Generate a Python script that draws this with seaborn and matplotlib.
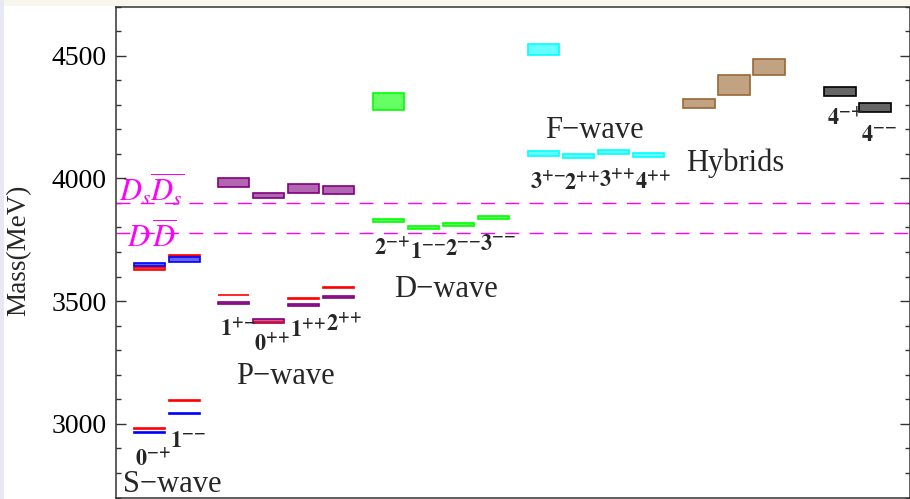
import matplotlib
matplotlib.use("Agg")
import matplotlib.pyplot as plt
from matplotlib.patches import Rectangle
from matplotlib.ticker import MultipleLocator
import seaborn as sns

# ---------------- charmonium spectrum (MeV) ----------------
# S-wave: 0-+, 1--
s_jpc = ["0", "1"]
s_pc = ["-+", "--"]
s_exp_1s = [2981, 3096]
s_lat_1s = [2966, 3042]
s_lat_1s_err = [2, 2]
s_exp_2s = [3634, 3686]
s_exp_2s_err = [6, 1]
s_lat_2s = [3648, 3670]
s_lat_2s_err = [6, 9]

# P-wave: 1+-, 0++, 1++, 2++
p_jpc = ["1", "0", "1", "2"]
p_pc = ["+-", "++", "++", "++"]
p_exp = [3525, 3414, 3510, 3555]
p_lat_1p = [3492, 3420, 3484, 3515]
p_lat_1p_err = [5, 9, 4, 4]
p_lat_2p = [3982, 3930, 3959, 3952]
p_lat_2p_err = [18, 11, 18, 16]

# D-wave: 2-+, 1--, 2--, 3--
d_jpc = ["2", "1", "2", "3"]
d_pc = ["-+", "--", "--", "--"]
d_lat_1d = [3827, 3800, 3812, 3840]
d_lat_1d_err = [6, 6, 7, 7]
d_lat_2d = [4312]
d_lat_2d_err = [35]

# F-wave: 3+-, 2++, 3++, 4++
f_jpc = ["3", "2", "3", "4"]
f_pc = ["+-", "++", "++", "++"]
f_lat_1f = [4101, 4092, 4108, 4096]
f_lat_1f_err = [11, 8, 8, 8]
f_lat_2f = [4525]
f_lat_2f_err = [24]

# Hybrids
h_lat = [4306, 4381, 4453]
h_lat_err = [18, 40, 32]

# Spin-4 states: 4-+, 4--
g_jpc = ["4", "4"]
g_pc = ["-+", "--"]
g_lat = [4355, 4290]
g_lat_err = [18, 18]

# Open-charm thresholds
thr_dsds = 3900
thr_dd = 3776

# ---------------- styling ----------------
sns.set_theme(style="ticks")
plt.rcParams["font.family"] = ["Liberation Serif", "DejaVu Serif"]
plt.rcParams["mathtext.fontset"] = "stix"

RED = "#ff0000"
BLUE = "#0000ff"
PURPLE = "#800080"
GREEN = "#00ff00"
CYAN = "#00ffff"
BROWN = "#996633"
BLACK = "#000000"

fig = plt.figure(figsize=(9.1, 4.99), dpi=100)
fig.patch.set_facecolor("white")
# slide-like margins
fig.add_artist(Rectangle((0, 1 - 6 / 499), 1, 6 / 499, transform=fig.transFigure,
                         facecolor="#f8f7ee", edgecolor="none", zorder=0))
fig.add_artist(Rectangle((0, 0), 4 / 910, 1, transform=fig.transFigure,
                         facecolor="#e8e8f5", edgecolor="none", zorder=0))

ax = fig.add_axes([116 / 910, 1.5 / 499, 794 / 910, (499 - 8) / 499])
ax.set_facecolor("white")

SLOT = 1.0
WIDTH = 0.90
group_start = {"S": 0.51, "P": 2.90, "D": 7.33, "F": 11.77, "H": 16.20, "G": 20.23}


def xpos(group, i):
    return group_start[group] + i * SLOT


def boxes(group, values, errs, color, alpha=0.6, lw=1.2, z=3):
    xs = [xpos(group, i) for i in range(len(values))]
    heights = [2 * e for e in errs]
    bottoms = [v - e for v, e in zip(values, errs)]
    ax.bar(xs, heights, bottom=bottoms, width=WIDTH, align="edge",
           facecolor=matplotlib.colors.to_rgba(color, alpha),
           edgecolor=color, linewidth=lw, zorder=z)


def lines(group, values, color, z=4):
    boxes(group, values, [1] * len(values), color, alpha=1.0, lw=1.2, z=z)


# lattice results
boxes("S", s_lat_1s, s_lat_1s_err, BLUE, alpha=1.0)
boxes("S", s_lat_2s, s_lat_2s_err, BLUE)
boxes("P", p_lat_1p, p_lat_1p_err, PURPLE)
boxes("P", p_lat_2p, p_lat_2p_err, PURPLE)
boxes("D", d_lat_1d, d_lat_1d_err, GREEN)
boxes("D", d_lat_2d, d_lat_2d_err, GREEN)
boxes("F", f_lat_1f, f_lat_1f_err, CYAN)
boxes("F", f_lat_2f, f_lat_2f_err, CYAN)
boxes("H", h_lat, h_lat_err, BROWN)
boxes("G", g_lat, g_lat_err, BLACK)

# experimental values
lines("S", s_exp_1s, RED)
boxes("S", s_exp_2s, s_exp_2s_err, RED, alpha=0.8, z=2)
lines("P", p_exp, RED)

# thresholds
for thr in (thr_dsds, thr_dd):
    ax.axhline(thr, color="#ff00ff", linewidth=1.0,
               linestyle=(0, (10, 7.5)), zorder=1)

ax.text(0.10, thr_dsds + 4, r"$D_s\overline{D_s}$", color="#ff00ff",
        fontsize=22, ha="left", va="baseline", zorder=5)
ax.text(0.32, thr_dd - 60, r"$D\,\overline{D}$", color="#ff00ff",
        fontsize=22, ha="left", va="baseline", zorder=5)

# quantum-number labels
JPC_FS = 16


def jpc(j, pc, x, y):
    signs = "".join("{" + c + "}" for c in pc)
    ax.text(x, y, r"$\mathbf{" + j + "^{" + signs + "}}$", fontsize=JPC_FS,
            ha="center", va="center", zorder=6)


jpc(s_jpc[0], s_pc[0], 1.06, 2855)
jpc(s_jpc[1], s_pc[1], 2.06, 2928)
jpc(p_jpc[0], p_pc[0], 3.49, 3384)
jpc(p_jpc[1], p_pc[1], 4.46, 3323)
jpc(p_jpc[2], p_pc[2], 5.49, 3380)
jpc(p_jpc[3], p_pc[3], 6.51, 3404)
jpc(d_jpc[0], d_pc[0], 7.89, 3717)
jpc(d_jpc[1], d_pc[1], 8.91, 3697)
jpc(d_jpc[2], d_pc[2], 9.91, 3709)
jpc(d_jpc[3], d_pc[3], 10.91, 3730)
jpc(f_jpc[0], f_pc[0], 12.34, 3986)
jpc(f_jpc[1], f_pc[1], 13.31, 3982)
jpc(f_jpc[2], f_pc[2], 14.31, 3994)
jpc(f_jpc[3], f_pc[3], 15.34, 3986)
jpc(g_jpc[0], g_pc[0], 20.83, 4246)
jpc(g_jpc[1], g_pc[1], 21.80, 4173)

# group names
GF = 22
ax.text(0.20, 2722, "S\u2212wave", fontsize=GF, ha="left", va="baseline")
ax.text(4.83, 3193, "P\u2212wave", fontsize=GF, ha="center", va="center")
ax.text(9.43, 3547, "D\u2212wave", fontsize=GF, ha="center", va="center")
ax.text(13.66, 4193, "F\u2212wave", fontsize=GF, ha="center", va="center")
ax.text(17.69, 4063, "Hybrids", fontsize=GF, ha="center", va="center")

# axes
ax.set_xlim(0, 794 / 35)
ax.set_ylim(2700, 4700)
ax.yaxis.set_major_locator(MultipleLocator(500))
ax.yaxis.set_minor_locator(MultipleLocator(100))
ax.set_xticks([])
ax.tick_params(axis="y", which="both", direction="in", left=True, right=True,
               colors="#333333", labelcolor="black", labelsize=20, pad=6.5)
ax.tick_params(axis="y", which="major", length=7, width=1.0)
ax.tick_params(axis="y", which="minor", length=3.6, width=1.0)
for sp in ax.spines.values():
    sp.set_color("#333333")
    sp.set_linewidth(1.1)

fig.text(19 / 910, 1 - 250 / 499, "Mass(MeV)", rotation=90, fontsize=19.5,
         ha="center", va="center")

fig.savefig("out.png", dpi=100, facecolor=fig.get_facecolor())
